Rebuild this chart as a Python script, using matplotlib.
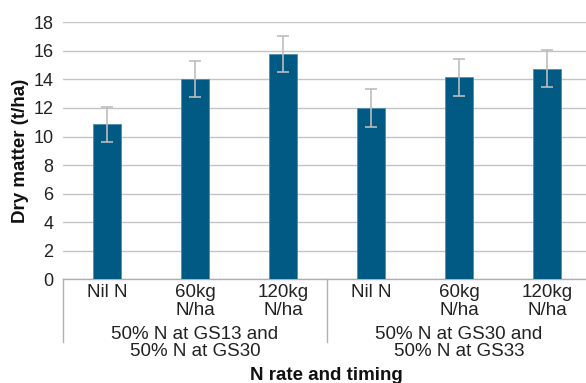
import matplotlib
matplotlib.use("Agg")
import matplotlib.pyplot as plt
from matplotlib.transforms import blended_transform_factory

plt.rcParams['font.family'] = ['Liberation Sans', 'DejaVu Sans']

categories = ["Nil N", "60kg\nN/ha", "120kg\nN/ha", "Nil N", "60kg\nN/ha", "120kg\nN/ha"]
groups = ["50% N at GS13 and\n50% N at GS30", "50% N at GS30 and\n50% N at GS33"]
values = [10.85, 14.05, 15.8, 12.0, 14.15, 14.75]
errors = [1.25, 1.27, 1.25, 1.32, 1.28, 1.28]
yticks = [0, 2, 4, 6, 8, 10, 12, 14, 16, 18]

W, H = 586, 383
fig = plt.figure(figsize=(W / 100, H / 100), dpi=100)
left, right, y0, y18 = 63, 591, 279.3, 22.3
ax = fig.add_axes([left / W, (H - y0) / H, (right - left) / W, (y0 - y18) / H])

x = list(range(len(values)))
ax.bar(x, values, width=0.32, color="#005a84", edgecolor="#4f8fb0", linewidth=0.6, zorder=3)
ax.errorbar(x, values, yerr=errors, fmt="none", ecolor="#bdbdbd", elinewidth=1.2,
            capsize=4, capthick=1.2, zorder=4)

ax.set_xlim(-0.5, 5.5)
ax.set_ylim(0, 18)
ax.set_yticks(yticks)
ax.set_yticklabels([str(t) for t in yticks])
ax.tick_params(axis="y", length=0, pad=7, labelsize=13, colors="#222222")
ax.set_xticks([])
ax.grid(axis="y", color="#c4c4c4", linewidth=1.0, zorder=0)
ax.set_axisbelow(True)
for s in ["top", "right", "left"]:
    ax.spines[s].set_visible(False)
ax.spines["bottom"].set_color("#b0b0b0")
ax.spines["bottom"].set_linewidth(1.0)

trans = blended_transform_factory(ax.transData, fig.transFigure)
for i, c in enumerate(categories):
    ax.text(i, (H - 284) / H, c, transform=trans, ha="center", va="top",
            fontsize=13.5, linespacing=1.07, color="#222222")
for g, lab in enumerate(groups):
    ax.text(g * 3 + 1, (H - 326) / H, lab, transform=trans, ha="center", va="top",
            fontsize=13.5, linespacing=1.02, color="#222222")

# group separators
for xs in [-0.5, 2.5]:
    ax.plot([xs, xs], [(H - y0) / H, (H - 342) / H], transform=trans, color="#b0b0b0",
            linewidth=1.0, clip_on=False)

fig.text(326 / W, (H - 376) / H, "N rate and timing", ha="center", va="center",
         fontsize=13.5, fontweight="bold", color="#111111")
fig.text(20.5 / W, (H - 151) / H, "Dry matter (t/ha)", ha="center", va="center",
         rotation=90, fontsize=13.5, fontweight="bold", color="#111111")

fig.savefig("out.png", dpi=100)
